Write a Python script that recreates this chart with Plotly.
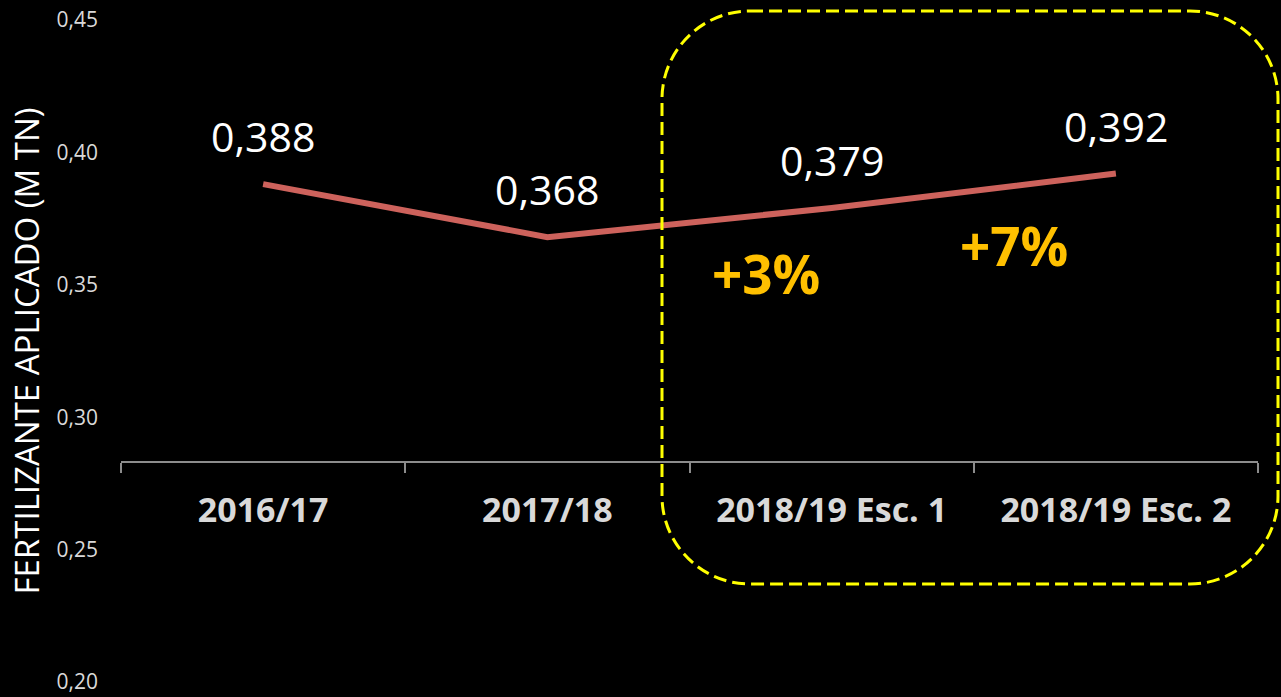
#Fertilizante aplicado por campaña - line chart on black background

import plotly.graph_objects as go

#Data
campaigns = ['2016/17', '2017/18', '2018/19 Esc. 1', '2018/19 Esc. 2']
fertilizer = [0.388, 0.368, 0.379, 0.392]
change_labels = ['+3%', '+7%']
y_ticks = [0.20, 0.25, 0.30, 0.35, 0.40, 0.45]

#Pixel helpers (plot area goes from x=121..1258, y=20..682)
def px(x):
    return (x - 121) / 1137

def py(y):
    return (682 - y) / 662

#Rounded dashed box around the 2018/19 scenarios
def rounded_box(x0, y0, x1, y1, r):
    rx, ry = r / 1137, r / 662
    k = 0.45
    a0, a1, b0, b1 = px(x0), px(x1), py(y1), py(y0)
    path = (f'M {a0+rx},{b1} L {a1-rx},{b1} '
            f'C {a1-rx*k},{b1} {a1},{b1-ry*k} {a1},{b1-ry} '
            f'L {a1},{b0+ry} '
            f'C {a1},{b0+ry*k} {a1-rx*k},{b0} {a1-rx},{b0} '
            f'L {a0+rx},{b0} '
            f'C {a0+rx*k},{b0} {a0},{b0+ry*k} {a0},{b0+ry} '
            f'L {a0},{b1-ry} '
            f'C {a0},{b1-ry*k} {a0+rx*k},{b1} {a0+rx},{b1} Z')
    return path

fig = go.Figure()
fig.add_trace(go.Scatter(x=campaigns, y=fertilizer, mode='lines',
                         line=dict(color='#CD625C', width=6),
                         hoverinfo='skip', showlegend=False))

#value labels above each point
for c, v in zip(campaigns, fertilizer):
    fig.add_annotation(x=c, y=v, xref='x', yref='y',
                       text=f'{v:.3f}'.replace('.', ','),
                       showarrow=False, yanchor='bottom', yshift=18,
                       font=dict(family='Open Sans', size=41, color='white'))

#percentage changes
for t, (xx, yy) in zip(change_labels, [(766, 273), (1014, 245)]):
    fig.add_annotation(x=px(xx), y=py(yy), xref='paper', yref='paper',
                       xanchor='center', yanchor='middle',
                       text=f'<b>{t}</b>', showarrow=False,
                       font=dict(family='Open Sans', size=53, color='#FFC000'))

fig.add_shape(type='path', xref='paper', yref='paper',
              path=rounded_box(662, 11, 1278, 584, 88),
              line=dict(color='#FFFF00', width=3, dash='13px,6px'))

fig.update_layout(
    width=1281, height=697,
    margin=dict(l=121, r=23, t=20, b=15),
    paper_bgcolor='black', plot_bgcolor='black',
    separators=',.',
    xaxis=dict(type='category', range=[-0.5, 3.5],
               anchor='free', position=py(462),
               showline=True, linecolor='#8C8C8C', linewidth=2,
               ticks='outside', tickson='boundaries', ticklen=10,
               tickcolor='#8C8C8C', tickwidth=2,
               ticklabelstandoff=18,
               showgrid=False, zeroline=False,
               tickfont=dict(family='Open Sans', size=34, color='#D9D9D9', weight='bold')),
    yaxis=dict(range=[0.19999, 0.45], tickvals=y_ticks, tickformat='.2f',
               showgrid=False, zeroline=False, showline=False,
               ticks='', ticklabelstandoff=22, ticklabeloverflow='allow',
               tickfont=dict(family='Open Sans', size=21, color='#D9D9D9'),
               title=dict(text='FERTILIZANTE APLICADO (M TN)', standoff=6,
                          font=dict(family='Open Sans', size=33, color='white')),
               automargin=False),
)

#remove the page margin so the black figure fills the window
fig.write_html('out.html', config={'displayModeBar': False},
               post_script="document.body.style.margin='0';"
                           "document.body.style.background='black';")
